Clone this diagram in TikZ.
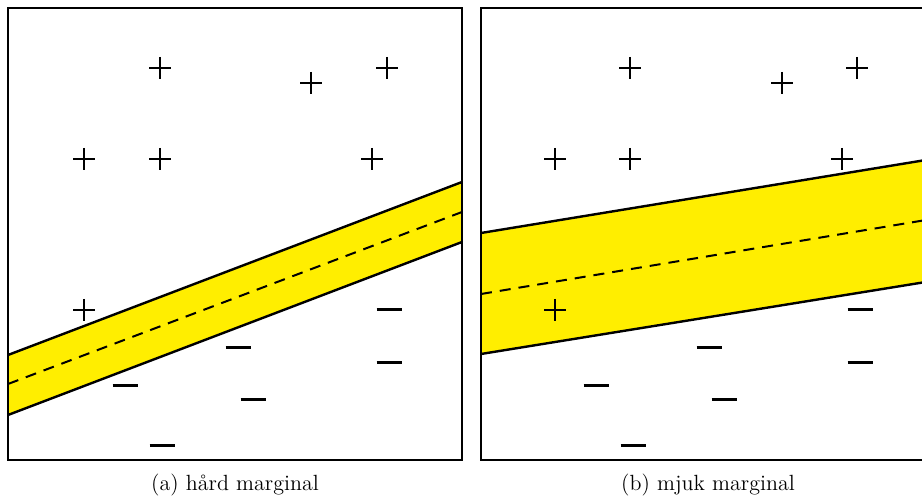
\documentclass[tikz,border=0pt]{standalone}
\begin{document}
\begin{tikzpicture}[x=0.5pt,y=-0.5pt,
  frame/.style={draw=black,line width=1pt},
  bandfill/.style={fill=bandyellow},
  bandedge/.style={draw=black,line width=1.2pt},
  midline/.style={draw=black,line width=1pt,dash pattern=on 5.5pt off 4pt},
  caption/.style={anchor=base,inner sep=0pt,font=\fontsize{11}{13.2}\selectfont},
  plusmark/.pic={\draw[line width=0.7pt] (-11,0) -- (11,0) (0,-11) -- (0,11);},
  minusmark/.pic={\draw[line width=1.5pt] (-12.5,0) -- (12.5,0);}
]
\definecolor{bandyellow}{RGB}{255,238,0}
\useasboundingbox (0,0) rectangle (922,496);
\clip (0,0) rectangle (922,496);

% ---- panel (a) ----
\fill[bandfill] (8,355) -- (462,182) -- (462,242) -- (8,415) -- cycle;
\draw[bandedge] (8,355) -- (462,182);
\draw[bandedge] (8,415) -- (462,242);
\draw[midline] (8,384) -- (462,212);
\foreach \p in {(160,68),(311,83),(387,68),(84,159),(160,159),(372,159),(84,310)}
  \pic at \p {plusmark};
\foreach \p in {(389,310),(238,348),(389,363),(125,386),(253,400),(162,446)}
  \pic at \p {minusmark};
\draw[frame] (8,8) rectangle (462,460);
\node[caption] (capA) at (235,491) {(a) hård marginal};

% ---- panel (b) ----
\fill[bandfill] (481,233) -- (935,158.5) -- (935,280.5) -- (481,354) -- cycle;
\draw[bandedge] (481,233) -- (935,158.5);
\draw[bandedge] (481,354) -- (935,280.5);
\draw[midline] (481,294) -- (935,218.5);
\foreach \p in {(630,68),(782,83),(857,68),(555,159),(630,159),(842,159),(555,310)}
  \pic at \p {plusmark};
\foreach \p in {(860,310),(709,348),(860,363),(596,386),(724,400),(633,446)}
  \pic at \p {minusmark};
\draw[frame] (481,8) rectangle (935,460);
\node[caption] (capB) at (708,491) {(b) mjuk marginal};
\end{tikzpicture}
\end{document}
